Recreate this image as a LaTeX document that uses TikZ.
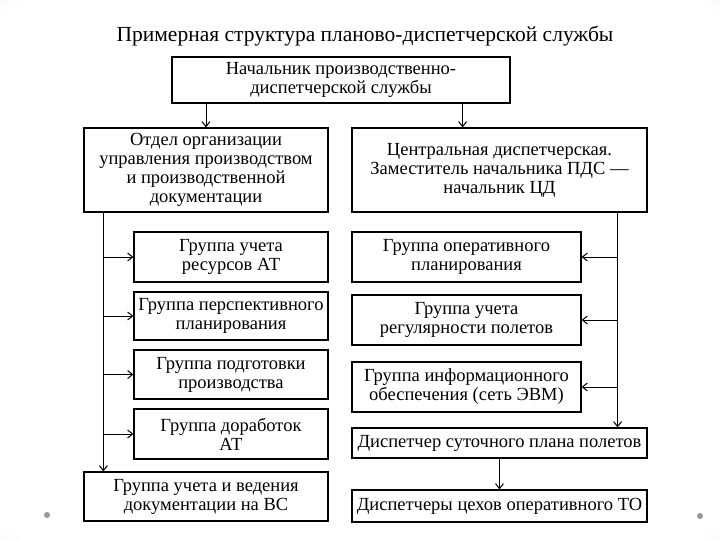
\documentclass[tikz,border=0pt]{standalone}
\usepackage{fontspec}
\setmainfont{Liberation Serif}
\usetikzlibrary{arrows.meta, positioning}
\pgfdeclareradialshading{vignette}{\pgfpoint{0bp}{0bp}}{color(0bp)=(white); color(34bp)=(white); color(50bp)=(black!18); color(72bp)=(black!28)}

\begin{document}
\begin{tikzpicture}[x=1pt, y=-1pt,
    box/.style={draw, line width=1.2pt, fill=white, inner sep=1pt, align=center, font=\fontsize{18.5}{19}\selectfont}, % все блоки
    link/.style={line width=1pt, -{Straight Barb[length=5pt, width=8pt]}}
    ]
\useasboundingbox (0,0) rectangle (720,540);
\shade[shading=vignette] (0,0) rectangle (720,540);
\fill[black!40] (47,515) circle (3);
\fill[black!40] (700,516) circle (3);

\node[font=\fontsize{21.5}{24}\selectfont] (title) at (365,36) {Примерная структура планово-диспетчерской службы};

\node[box, minimum width=338, minimum height=46] (chief) at (341,80) {Начальник производственно-\\диспетчерской службы};

% левая ветвь
\node[box, minimum width=244, minimum height=84] (otd) at (206,170) {Отдел организации\\управления производством\\и производственной\\документации};
\node[box, minimum width=194, minimum height=50] (g1) at (231,257) {Группа учета\\ресурсов АТ};
\node[box, minimum width=194, minimum height=48] (g2) at (231,316) {Группа перспективного\\планирования};
\node[box, minimum width=194, minimum height=49] (g3) at (231,374.5) {Группа подготовки\\производства};
\node[box, minimum width=194, minimum height=50] (g4) at (231,434) {Группа доработок\\АТ};
\node[box, minimum width=244, minimum height=49] (vs) at (206,496.5) {Группа учета и ведения\\документации на ВС};

% правая ветвь
\node[box, minimum width=295, minimum height=84] (cd) at (499.5,170) {Центральная диспетчерская.\\Заместитель начальника ПДС —\\начальник ЦД};
\node[box, minimum width=229, minimum height=50] (r1) at (466.5,257) {Группа оперативного\\планирования};
\node[box, minimum width=229, minimum height=50] (r2) at (466.5,320) {Группа учета\\регулярности полетов};
\node[box, minimum width=229, minimum height=50] (r3) at (466.5,387) {Группа информационного\\обеспечения (сеть ЭВМ)};
\node[box, minimum width=295, minimum height=30] (disp) at (499.5,443) {Диспетчер суточного плана полетов};
\node[box, minimum width=295, minimum height=32] (ops) at (499.5,506) {Диспетчеры цехов оперативного ТО};

\coordinate (lbus) at ([xshift=20]otd.south west);
\coordinate (rbus) at ([xshift=-30]cd.south east);
\coordinate (cr) at ([xshift=-48]chief.south east);

\draw[link] (chief.south -| otd.north) -- (otd.north);
\draw[link] (cr) -- (cr |- cd.north);

\draw[link] (lbus) -- (lbus |- vs.north);
\foreach \g in {g1,g2,g3,g4}
  \draw[link] (lbus |- \g.west) -- (\g.west);

\draw[link] (rbus) -- (rbus |- disp.north);
\foreach \r in {r1,r2,r3}
  \draw[link] (rbus |- \r.east) -- (\r.east);
\draw[link] (disp.south) -- (ops.north);
\end{tikzpicture}
\end{document}
